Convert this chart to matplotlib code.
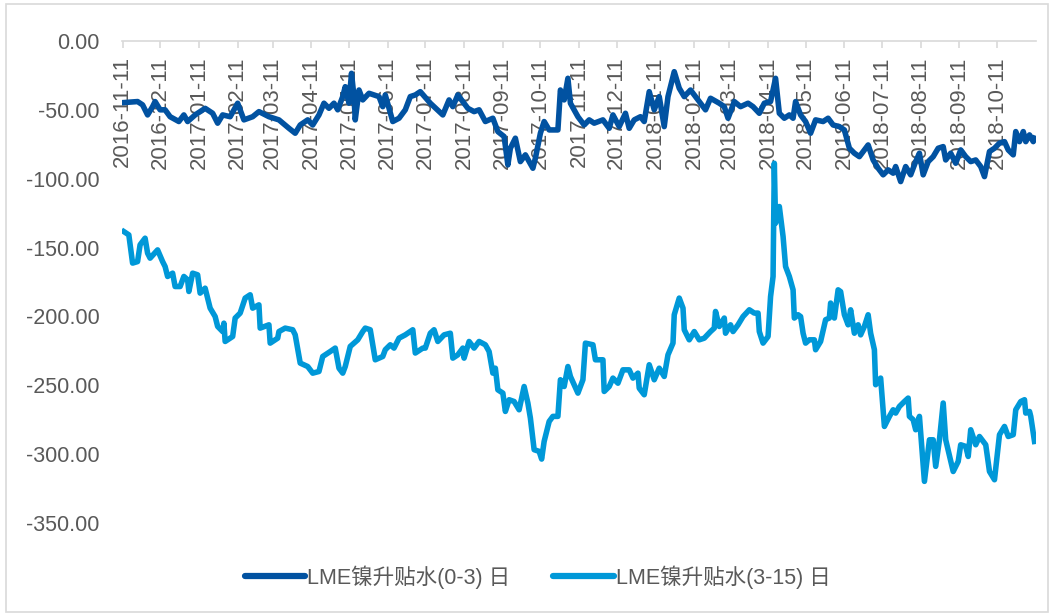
import matplotlib
matplotlib.use("Agg")
import matplotlib.pyplot as plt
import pandas as pd
from matplotlib.patches import Rectangle

plt.rcParams['font.family'] = ['Liberation Sans', 'Noto Sans CJK SC', 'DejaVu Sans']
plt.rcParams['axes.unicode_minus'] = False

start_date = "2016-11-11"

# LME nickel spread (0-3), days since start_date and values
days_0_3 = [0,12,16,20,24,26,30,34,38,45,49,52,58,66,72,76,80,86,92,97,
            104,109,117,125,133,138,142,148,152,157,161,165,169,172,176,178,181,183,185,186,
            189,192,197,205,208,210,216,221,226,230,234,238,
            246,256,261,264,268,276,281,285,290,296,300,305,308,310,314,318,322,328,330,334,
            337,341,348,350,353,356,358,364,369,373,377,384,389,392,397,402,405,409,414,417,
            421,425,429,433,436,441,445,449,454,460,466,470,477,481,
            484,489,494,500,504,509,513,518,522,525,529,533,536,538,542,546,550,554,560,564,
            568,573,577,581,585,589,593,596,600,604,608,612,616,618,622,626,630,634,637,640,
            644,648,652,656,658,662,666,670,674,678,682,686,689,693,697,701,705,708,712,714,
            717,720,722,725,728,729]
vals_0_3 = [-44.8,-44,-46.4,-53.7,-47.7,-44,-50,-50,-55,-58.5,-53.7,-58.5,-53.7,-48.9,-52.5,-59.7,-53.7,-55,-45.2,-57.3,
            -55,-51.3,-55,-57.3,-63.4,-67,-61,-57.3,-61,-53.7,-45.2,-48.9,-45.2,-50,-40.4,-33.2,-45.2,-23.5,-40.4,-57.3,
            -35.6,-42.8,-38,-40.4,-47.7,-39.2,-58.5,-56.1,-50,-40.4,-39.2,-36.8,
            -45.2,-53.7,-42.8,-47.7,-39.2,-48.9,-51.3,-50,-58.5,-56.1,-65.8,-69.4,-90,-77.9,-70.6,-87.6,-82.7,-92.4,-85.1,-67,
            -58.5,-64.6,-64.6,-35.6,-42.8,-27.1,-45.2,-55,-61,-57.3,-59.7,-57.3,-63.4,-53.7,-62.2,-52.5,-63.4,-57.3,-55,-58.5,
            -36.8,-50,-40.4,-62.2,-40.4,-22.3,-34.3,-40.4,-35.6,-42.8,-50,-41.6,-45.2,-47.7,
            -56.1,-44,-47.7,-45.2,-47.7,-52.5,-45.2,-44,-27.1,-52.5,-56.1,-53.7,-56.1,-44,-53.7,-58.5,-67,-57.3,-58.5,-56.1,
            -61,-62.2,-64.6,-77.9,-81.5,-84,-79.1,-75.5,-86.4,-92.4,-97.2,-93.6,-96,-91.2,-102.1,-91.2,-97.2,-87.6,-81.5,-97.2,
            -87.6,-84,-77.9,-76.7,-86.4,-81.5,-88.8,-79.1,-84,-87.6,-86.4,-91.2,-98.5,-80.3,-77.9,-74.2,-73.1,-79.1,-82.7,-65.8,
            -73.1,-65.8,-73.1,-68.2,-73.1,-70.6]

# LME nickel spread (3-15)
days_3_15 = [1,5,8,12,14,18,20,22,28,32,34,36,40,42,46,49,52,53,56,60,
             62,66,70,74,76,80,81,82,88,90,94,98,102,104,109,110,117,118,124,125,
             130,136,138,142,148,152,157,160,166,170,173,176,178,182,188,192,194,198,202,208,
             210,214,217,221,226,232,234,240,242,246,249,252,257,262,264,268,272,273,277,281,
             285,290,293,296,298,300,304,306,309,313,317,321,324,326,329,333,335,337,341,344,
             348,350,353,356,
             358,364,368,370,376,378,384,385,389,392,396,400,405,408,412,413,417,421,425,429,
             433,436,440,441,445,448,449,453,457,461,465,470,473,474,477,481,482,486,488,492,
             496,501,505,508,509,512,516,518,520,521,522,525,528,530,533,536,537,540,542,544,
             546,549,553,554,558,562,565,566,569,572,574,577,580,582,585,588,590,593,596,598,
             601,602,606,609,613,616,618,621,625,628,629,632,634,637,641,645,648,650,653,656,
             658,664,668,670,674,676,678,682,685,690,693,697,701,705,708,712,714,718,721,722,
             725,726,729]
vals_3_15 = [-138.4,-140.8,-161.3,-160.2,-148,-143.2,-154.1,-157.7,-151.7,-160.2,-163.8,-171,-168.6,-178.3,-178.3,-171,-173.4,-181.9,-168.6,-169.8,
             -183.1,-179.5,-194,-200.1,-207.3,-211,-204.9,-218.2,-214.6,-201.2,-197.6,-186.7,-184.3,-194,-191.6,-208.5,-206.1,-219.4,-215.8,-211,
             -208.5,-209.7,-213.4,-233.9,-236.4,-241.2,-240,-229.1,-225.5,-223,-237.6,-241.2,-236.4,-221.8,-217,-211,-208.5,-209.7,-231.5,-229.1,
             -224.2,-220.6,-223,-215.8,-213.4,-209.7,-226.6,-223,-223,-212.2,-209.7,-218.2,-213.4,-212.2,-230.3,-227.9,-223,-230.3,-218.2,-223,
             -218.2,-220.6,-225.5,-241.2,-237.6,-253.3,-255.7,-269,-260.5,-261.8,-267.8,-250.9,-262.9,-273.8,-296.8,-298,-303.6,-290.8,-276.3,-272.6,
             -272.6,-246,-250.9,-236.4,
             -243.6,-255.7,-246,-219.4,-220.6,-231.5,-231.5,-254.5,-250.9,-244.8,-248.5,-238.8,-238.8,-244.8,-241.2,-252.1,-256.9,-235.1,-246,-237.6,
             -243.6,-227.9,-219.4,-198.8,-186.7,-194,-209.7,-217,-211,-217,-215.8,-211,-208.5,-196.4,-207.3,-201.2,-212.2,-206.1,-211,-206.1,
             -200.1,-195.2,-197.6,-197.6,-211,-219.4,-214.6,-185.6,-171,-88.8,-132.3,-120.2,-142,-163.8,-171,-180.7,-201.2,-198.8,-200.1,-212.2,
             -219.4,-217,-217,-224.2,-218.2,-202.4,-201.2,-190.3,-201.2,-180.7,-182,-198.8,-206.1,-195.2,-212.2,-206.1,-213.4,-207.3,-198.8,-212.2,
             -224.2,-249.6,-244.8,-279.9,-272.6,-267.8,-270.2,-265.4,-261.8,-259.3,-272.6,-275,-282.3,-272.6,-319.8,-289.6,-289.6,-308.9,-289.6,-262.9,
             -289.6,-312.6,-305.3,-293.2,-294.4,-301.7,-282.3,-293.2,-287.2,-293.2,-312.6,-318.6,-285.9,-279.9,-287.2,-285.9,-267.8,-261.8,-260.5,-270.2,
             -269,-272.6,-290.8]

tick_labels = ['2016-11-11','2016-12-11','2017-01-11','2017-02-11','2017-03-11','2017-04-11',
               '2017-05-11','2017-06-11','2017-07-11','2017-08-11','2017-09-11','2017-10-11',
               '2017-11-11','2017-12-11','2018-01-11','2018-02-11','2018-03-11','2018-04-11',
               '2018-05-11','2018-06-11','2018-07-11','2018-08-11','2018-09-11','2018-10-11']
y_ticks = [0, -50, -100, -150, -200, -250, -300, -350]
series_names = ['LME镍升贴水(0-3) 日', 'LME镍升贴水(3-15) 日']
colors = ['#0152A1', '#0098D8']

t0 = pd.Timestamp(start_date)
dates_a = [t0 + pd.Timedelta(days=d) for d in days_0_3]
dates_b = [t0 + pd.Timedelta(days=d) for d in days_3_15]
tick_dates = pd.to_datetime(tick_labels)

fig = plt.figure(figsize=(10.54, 6.16), dpi=100)
fig.patches.append(Rectangle((0.006, 0.006), 0.988, 0.988, transform=fig.transFigure,
                             fill=False, edgecolor='#d9d9d9', linewidth=1.2))
ax = fig.add_axes([0.1157, 0.151, 0.867, 0.7825])

ax.plot(dates_a, vals_0_3, color=colors[0], lw=4.0, solid_joinstyle='round', label=series_names[0], zorder=3)
ax.plot(dates_b, vals_3_15, color=colors[1], lw=4.0, solid_joinstyle='round', label=series_names[1], zorder=2)

ax.set_ylim(-350, 0)
ax.set_xlim(t0 - pd.Timedelta(days=0.5), t0 + pd.Timedelta(days=730))
ax.set_yticks(y_ticks)
ax.set_yticklabels([f"{v:.2f}" for v in y_ticks])
ax.set_xticks(tick_dates)
ax.set_xticklabels(tick_labels)

for s in ['top', 'right', 'left']:
    ax.spines[s].set_visible(False)
ax.spines['bottom'].set_position(('data', 0))
ax.spines['bottom'].set_color('#d9d9d9')
ax.spines['bottom'].set_linewidth(1.2)
ax.spines['bottom'].set_zorder(1)
ax.tick_params(axis='x', direction='out', length=5, width=1.2, color='#d9d9d9',
               labelsize=16, labelcolor='#595959', pad=6, labelrotation=90)
ax.tick_params(axis='y', length=0, labelsize=15.5, labelcolor='#595959', pad=16)
for lbl in ax.get_xticklabels():
    lbl.set_rotation(90)
    lbl.set_va('top')
    lbl.set_ha('center')
ax.set_facecolor('none')

leg = fig.legend(loc='center', bbox_to_anchor=(0.51, 0.063), ncol=2, frameon=False,
                 handlelength=2.8, handletextpad=0.1, columnspacing=2.0,
                 prop={'family': ['Liberation Sans', 'Noto Sans CJK SC'], 'size': 15.5})
for t in leg.get_texts():
    t.set_color('#595959')
for h in leg.get_lines():
    h.set_linewidth(4.5)
    h.set_solid_capstyle('round')

fig.savefig('out.png', dpi=100)
